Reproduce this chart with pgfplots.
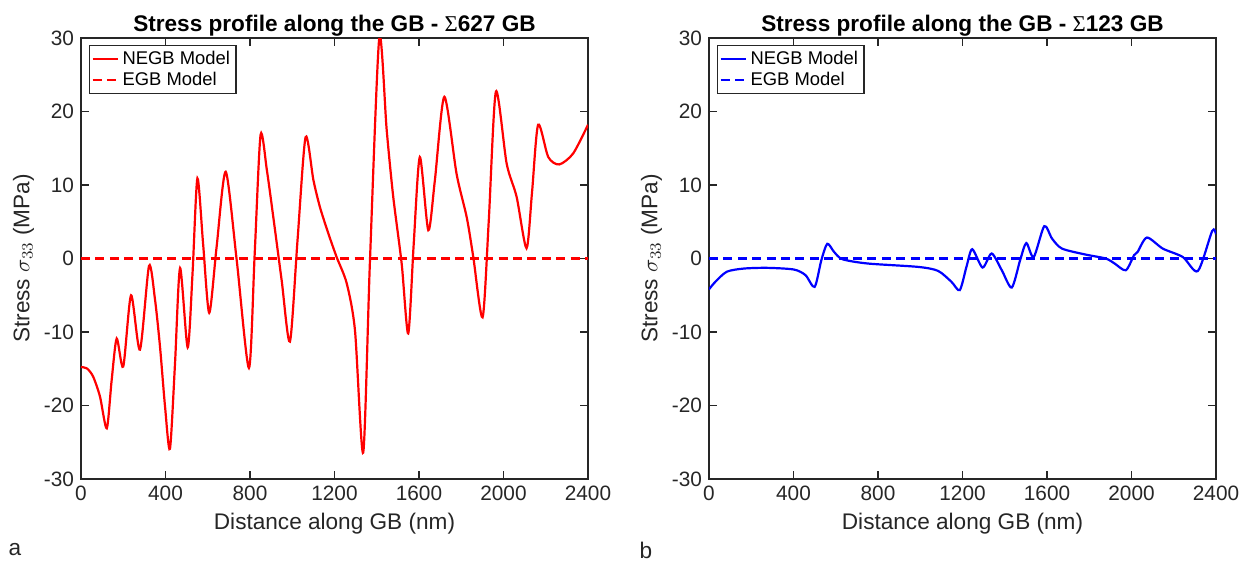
\documentclass[border=0pt]{standalone}
\usepackage{pgfplots}
\pgfplotsset{compat=1.18}
\usepackage{fontspec}
\setmainfont{Liberation Sans}
\newfontfamily\symfont{Liberation Serif}
\definecolor{axgray}{gray}{0.15}
\begin{document}
\begin{tikzpicture}
\useasboundingbox (0,0) rectangle (620pt,281.5pt);
\pgfplotsset{
  every axis/.append style={
    scale only axis, width=253.5pt, height=220.5pt,
    xmin=0, xmax=2400, ymin=-30, ymax=30,
    xtick={0,400,...,2400}, ytick={-30,-20,...,30},
    tick align=inside, tick pos=both, major tick length=4pt,
    axis line style={axgray, line width=0.6pt},
    every tick/.style={axgray, line width=0.6pt},
    /pgf/number format/assume math mode=true,
    /pgf/number format/1000 sep={},
    tick label style={font=\fontsize{10.4}{12}\selectfont, text=axgray},
    label style={font=\fontsize{11.3}{13}\selectfont, text=axgray},
    xlabel={Distance along GB (nm)},
    ylabel={Stress $\sigma_{33}$ (MPa)},
    xlabel style={yshift=0.5pt},
    ylabel style={yshift=-2pt},
    title style={font=\bfseries\fontsize{11.3}{13}\selectfont, yshift=-8.5pt},
    legend style={at={(0,1)}, anchor=north west, xshift=4pt, yshift=-3.6pt,
      font=\fontsize{9.2}{10}\selectfont, draw=axgray, line width=0.6pt,
      inner xsep=1pt, inner ysep=0.5pt, row sep=-1.5pt, cells={anchor=west}},
    legend cell align=left,
    legend image code/.code={\draw[#1, line width=1pt] (0pt,0pt) -- (12.5pt,0pt);},
    clip=true,
  }
}
\begin{axis}[at={(40.5pt,42pt)}, anchor=south west,
  title={Stress profile along the GB - {\symfont\mdseries Σ}627 GB}]
\addplot[red, line width=1.1pt, smooth, tension=0.45] coordinates {
(0,-14.75) (30,-15.0) (58,-16.1) (90,-18.8) (122,-23.1) (145,-16.6) (169,-10.9)
(200,-14.7) (237,-5.0) (279,-12.4) (322,-1.0) (350,-5.5) (374,-12.0) (398,-20.2)
(421,-25.9) (445,-14.3) (469,-1.3) (505,-12.1) (528,-2.0) (551,10.9) (578,2.0) (607,-7.4)
(642,1.6) (685,11.8) (737,-0.2) (795,-14.9) (822,0.5) (850,16.8) (880,12.0) (910,5.7) (950,-3.0)
(989,-11.3) (1025,2.5) (1063,16.5) (1100,10.7) (1131,7.0) (1171,3.4) (1210,0.2)
(1258,-3.4) (1297,-9.8) (1336,-26.4) (1368,-0.2) (1412,30.0) (1447,17.5)
(1478,8.4) (1518,-0.7) (1549,-10.2) (1575,2.0) (1604,13.8) (1644,3.85) (1675,10.6)
(1720,22.0) (1778,11.5) (1826,5.6) (1857,0.2) (1901,-8.0) (1930,5.0) (1964,22.7)
(2015,12.9) (2062,8.4) (2109,1.4) (2135,9.0) (2164,18.2) (2212,13.8) (2264,12.8)
(2330,14.3) (2400,18.2)
};
\addlegendentry{NEGB Model}
\addplot[red, line width=1.1pt, dash pattern=on 4.5pt off 2.7pt] coordinates {(0,0) (2400,0)};
\addlegendentry{EGB Model}
\end{axis}
\begin{axis}[at={(354.5pt,42pt)}, anchor=south west,
  title={Stress profile along the GB - {\symfont\mdseries Σ}123 GB}]
\addplot[blue, line width=1.1pt, smooth, tension=0.45] coordinates {
(0,-4.2) (29,-3.2) (84,-1.8) (164,-1.37) (275,-1.27) (402,-1.5) (457,-2.27)
(500,-3.86) (532,-0.2) (560,2.0) (592,0.9) (632,-0.1) (751,-0.68) (989,-1.14)
(1084,-1.68) (1148,-3.18) (1187,-4.3) (1219,-1.1) (1246,1.27) (1295,-1.23)
(1338,0.68) (1386,-1.6) (1433,-3.95) (1473,-0.2) (1502,2.1) (1537,0.2)
(1587,4.4) (1624,2.7) (1671,1.35) (1782,0.54) (1878,0.0) (1920,-0.68)
(1973,-1.6) (2012,0.45) (2029,0.9) (2073,2.85) (2148,1.35) (2243,0.2)
(2314,-1.7) (2382,3.76) (2400,3.3)
};
\addlegendentry{NEGB Model}
\addplot[blue, line width=1.1pt, dash pattern=on 4.5pt off 2.7pt] coordinates {(0,0) (2400,0)};
\addlegendentry{EGB Model}
\end{axis}
\node[font=\fontsize{11.3}{13}\selectfont, text=axgray] at (7.5pt,6.5pt) {a};
\node[font=\fontsize{11.3}{13}\selectfont, text=axgray] at (323pt,6.5pt) {b};
\end{tikzpicture}
\end{document}
